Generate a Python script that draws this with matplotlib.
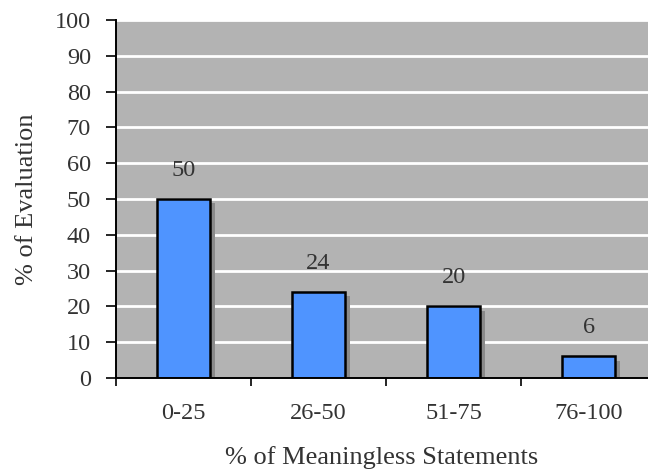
import matplotlib.pyplot as plt
from matplotlib.patches import Rectangle

categories = ['0-25', '26-50', '51-75', '76-100']
values = [50, 24, 20, 6]

plt.rcParams['font.family'] = ['Liberation Serif', 'DejaVu Serif']

fig = plt.figure(figsize=(6.48, 4.71), dpi=100)
ax = fig.add_axes([0.179, 0.1975, 0.821, 0.76])

ax.set_facecolor('#b3b3b3')
ax.set_xlim(-0.5, 3.44)
ax.set_ylim(0, 100)

# white horizontal grid
for y in range(10, 101, 10):
    ax.axhline(y, color='white', lw=2, zorder=1)

width = 0.39
x = list(range(len(categories)))

# drop shadows
for xi, v in zip(x, values):
    ax.add_patch(Rectangle((xi - width / 2 + 0.035, 0), width, v - 1.2,
                           facecolor='#8a8a8a', edgecolor='none', zorder=2))

ax.bar(x, values, width=width, color='#4f94ff', edgecolor='black', linewidth=1.8, zorder=3)

for xi, v in zip(x, values):
    ax.text(xi, v + 8, str(v), ha='center', va='center', fontsize=17.5, color='#333333', zorder=4)

ax.set_yticks(range(0, 101, 10))
ax.tick_params(axis='y', direction='out', length=7, width=1.2, labelsize=17.5, labelcolor='#333333', pad=11)

# category labels at centres, ticks at the boundaries
ax.set_xticks(x)
ax.set_xticklabels(categories, fontsize=17.5, color='#333333')
ax.tick_params(axis='x', which='major', length=0, pad=18)
ax.set_xticks([-0.5, 0.5, 1.5, 2.5], minor=True)
ax.tick_params(axis='x', which='minor', direction='out', length=6, width=1.2)

for side in ['top', 'right']:
    ax.spines[side].set_visible(False)
for side in ['left', 'bottom']:
    ax.spines[side].set_linewidth(1.4)
    ax.spines[side].set_zorder(5)

ax.set_xlabel('% of Meaningless Statements', fontsize=19, color='#333333', labelpad=16)
ax.set_ylabel('% of Evaluation', fontsize=19, color='#333333', labelpad=12)

fig.savefig('out.png', dpi=100)
